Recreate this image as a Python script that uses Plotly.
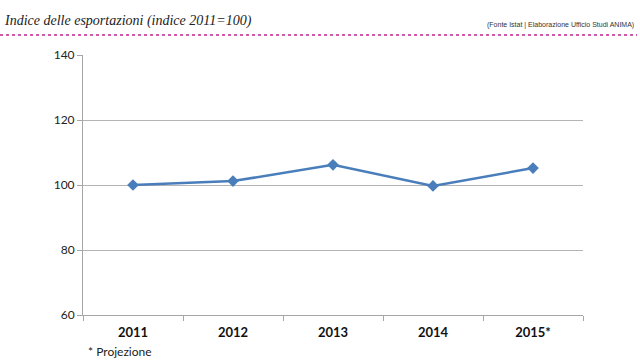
import plotly.graph_objects as go

years = ["2011", "2012", "2013", "2014", "2015*"]
index_values = [100.0, 101.2, 106.2, 99.7, 105.2]
y_ticks = [60, 80, 100, 120, 140]

L, R, T, B = 83, 57, 55, 45
W, H = 640, 360
pw, ph = W - L - R, H - T - B

def px(x):
    return (x - L) / pw

def py(y):
    return (H - B - y) / ph

fig = go.Figure()
fig.add_trace(go.Scatter(
    x=years, y=index_values, mode="lines+markers",
    line=dict(color="#4a7ebb", width=2.5),
    marker=dict(symbol="diamond", size=9, color="#4a7ebb"),
    showlegend=False, hoverinfo="x+y",
))

fig.update_layout(
    width=W, height=H,
    margin=dict(l=L, r=R, t=T, b=B),
    paper_bgcolor="white", plot_bgcolor="white",
    font=dict(family="Lato, Open Sans, sans-serif", color="#222"),
    xaxis=dict(
        type="category", tickson="boundaries", ticks="outside", ticklen=5,
        tickcolor="#a6a6a6", showline=True, linecolor="#a6a6a6", linewidth=1,
        showgrid=False, tickfont=dict(size=13, color="#111", family="Lato, sans-serif", weight="bold"),
        range=[-0.5, 4.5], ticklabelstandoff=5,
    ),
    yaxis=dict(
        range=[60, 140], tickvals=y_ticks, ticks="outside", ticklen=5,
        tickcolor="#a6a6a6", showline=True, linecolor="#a6a6a6", linewidth=1,
        showgrid=True, gridcolor="#b4b4b4", gridwidth=1, zeroline=False,
        tickfont=dict(size=12, color="#222"),
    ),
)

fig.add_shape(type="line", xref="paper", yref="paper",
              x0=px(0), x1=px(637), y0=py(35), y1=py(35),
              line=dict(color="#c2258f", width=1.5, dash="dot"))

fig.add_annotation(xref="paper", yref="paper", x=px(2), y=py(21),
                   xanchor="left", yanchor="middle", showarrow=False,
                   text="<i>Indice delle esportazioni (indice 2011=100)</i>",
                   font=dict(family="Liberation Serif, serif", size=14, color="#222"))
fig.add_annotation(xref="paper", yref="paper", x=px(636), y=py(25),
                   xanchor="right", yanchor="middle", showarrow=False,
                   text="(Fonte Istat | Elaborazione Ufficio Studi ANIMA)",
                   font=dict(family="Liberation Sans, Arial, sans-serif", size=7, color="#333"))
fig.add_annotation(xref="paper", yref="paper", x=px(86), y=py(351),
                   xanchor="left", yanchor="middle", showarrow=False,
                   text="* Projezione",
                   font=dict(family="Lato, sans-serif", size=12, color="#222"))

fig.write_html("out.html", config={"displayModeBar": False},
               post_script="document.body.style.margin='0';document.body.style.overflow='hidden';")
